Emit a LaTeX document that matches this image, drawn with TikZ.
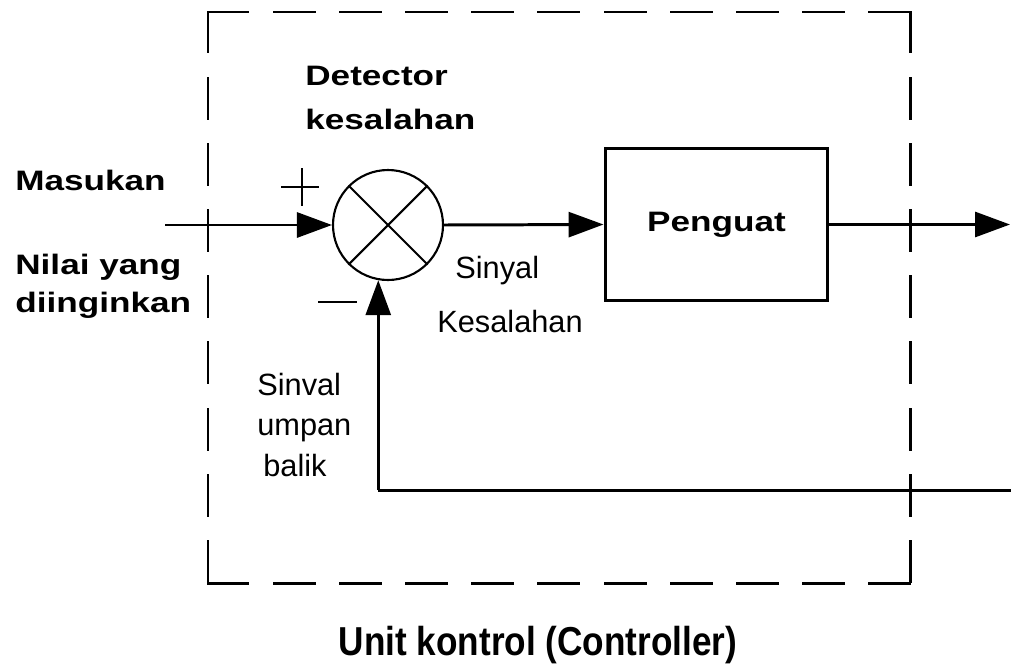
\documentclass[tikz,border=0pt]{standalone}
\usepackage{fontspec}
\setmainfont{Liberation Sans}
\newfontfamily\widefont[FakeStretch=1.25]{Liberation Sans}
\newfontfamily\narrowfont[FakeStretch=0.87]{Liberation Sans}
\usetikzlibrary{arrows.meta, positioning}

\begin{document}
\begin{tikzpicture} [x=0.02cm, y=-0.02cm,
    line width=1.7pt,
    tip/.style = {-{Triangle[length=0.7cm, width=0.5cm]}},
    frame/.style = {dash pattern=on 0.8cm off 0.524cm, line cap=rect},
    bold/.style = {font=\widefont\fontsize{16}{21.5}\selectfont\bfseries, anchor=west, align=left},
    thin/.style = {font=\fontsize{17.5}{23.2}\selectfont, anchor=west, align=left}]
    \useasboundingbox (0,0) rectangle (1011,670);

    % dashed controller frame
    \coordinate (tl) at (208,12);
    \coordinate (tr) at (910,12);
    \coordinate (br) at (910,583);
    \coordinate (bl) at (208,583);
    \foreach \a/\b in {tl/tr, tr/br, tl/bl, bl/br}
        \draw [frame] (\a) -- (\b);

    \node (sum) [circle, draw, line width=1.2pt, minimum size=2.2cm] at (388,225) {};
    \draw [line width=1.2pt] (sum.north west) -- (sum.south east)
        (sum.north east) -- (sum.south west);
    \node (amp) [draw, minimum width=4.46cm, minimum height=3.06cm,
        font=\widefont\fontsize{16}{20}\selectfont\bfseries] at (716.5,224.5) {Penguat};

    \coordinate (in) at (165,225);
    \coordinate (out) at (1010,224.5);
    \coordinate (fb) at (sum.-100 |- 1011,490);
    \coordinate (fbend) at (1011,490);

    \path [tip]
        (in) edge (sum.west)
        (sum.east) edge (amp.west)
        (amp.east) edge (out)
        (fb) edge (sum.-100);
    \draw (fb) -- (fbend);

    % signs
    \draw [line width=1.2pt] (281,187) -- (319,187) (302,168) -- (302,206);
    \draw [line width=1.2pt] (318,302) -- (357,302);

    % labels
    \node (det) [bold, font=\widefont\fontsize{16}{25.5}\selectfont\bfseries] at (298,98) {Detector\\kesalahan};
    \node (inp) [bold] at (8,180) {Masukan};
    \node (ref) [bold] at (8,286) {Nilai yang\\diinginkan};
    \node (err1) [thin] at (448,271) {Sinyal};
    \node (err2) [thin] at (430,322) {Kesalahan};
    \node (fbl) [thin] at (250,425) {Sinval\\umpan\\\hspace{0.12cm}balik};
    \node (ctrl) [font=\narrowfont\fontsize{23}{26}\selectfont\bfseries] at (538,645) {Unit kontrol (Controller)};
\end{tikzpicture}
\end{document}
